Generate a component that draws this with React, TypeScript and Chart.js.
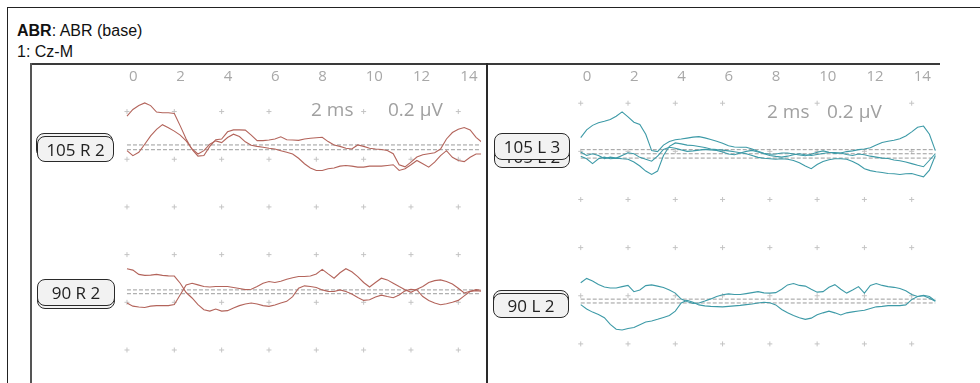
import React, { useEffect, useRef } from "react";
import { Chart, registerables } from "chart.js";

Chart.register(...registerables);

// ---------- data ----------
const TIMES_MS = [0, 0.25, 0.5, 0.75, 1, 1.25, 1.5, 1.75, 2, 2.25, 2.5, 2.75, 3, 3.25, 3.5, 3.75, 4, 4.25, 4.5, 4.75, 5, 5.25, 5.5, 5.75, 6, 6.25, 6.5, 6.75, 7, 7.25, 7.5, 7.75, 8, 8.25, 8.5, 8.75, 9, 9.25, 9.5, 9.75, 10, 10.25, 10.5, 10.75, 11, 11.25, 11.5, 11.75, 12, 12.25, 12.5, 12.75, 13, 13.25, 13.5, 13.75, 14, 14.25, 14.5, 14.75, 15];
const X_TICKS_MS = [0, 2, 4, 6, 8, 10, 12, 14];
const GRID_ROWS_UV = [0, -0.2, -0.4, -0.6, -0.8, -1.0];

// amplitudes in µV relative to each trace's own baseline
const R105_T1 = [0.121, 0.149, 0.165, 0.176, 0.165, 0.138, 0.135, 0.135, 0.132, 0.080, 0.025, -0.019, -0.047, -0.044, -0.006, 0.022, 0.025, 0.055, 0.063, 0.063, 0.062, 0.041, 0.018, 0.018, 0.021, 0.025, 0.034, 0.022, 0.021, 0.019, 0.025, 0.028, 0.030, 0.032, 0.014, 0.000, -0.006, -0.014, -0.017, 0.000, -0.006, -0.014, -0.017, -0.019, -0.023, -0.037, -0.083, -0.092, -0.072, -0.051, -0.041, -0.037, -0.033, -0.017, 0.025, 0.052, 0.066, 0.073, 0.063, 0.032, 0.011];
const R105_T2 = [-0.004, -0.025, -0.011, 0.023, 0.058, 0.085, 0.105, 0.092, 0.078, 0.061, 0.037, 0.003, -0.018, -0.004, 0.023, 0.037, 0.030, 0.051, 0.065, 0.055, 0.033, 0.019, 0.014, 0.010, 0.006, 0.003, -0.004, -0.011, -0.018, -0.036, -0.059, -0.077, -0.087, -0.087, -0.080, -0.077, -0.069, -0.066, -0.069, -0.073, -0.073, -0.069, -0.069, -0.069, -0.066, -0.063, -0.087, -0.080, -0.063, -0.045, -0.059, -0.073, -0.052, -0.025, -0.004, -0.032, -0.045, -0.050, -0.032, -0.018, -0.018];
const R90_T1 = [0.089, 0.083, 0.065, 0.061, 0.062, 0.065, 0.061, 0.059, 0.058, 0.028, -0.011, -0.034, -0.062, -0.083, -0.089, -0.080, -0.089, -0.087, -0.076, -0.066, -0.059, -0.055, -0.059, -0.066, -0.069, -0.063, -0.055, -0.048, -0.028, 0.007, 0.017, 0.014, 0.010, 0.000, -0.006, -0.007, 0.000, -0.007, -0.017, -0.032, -0.044, -0.041, -0.030, -0.022, -0.028, -0.033, -0.021, -0.004, 0.003, 0.000, -0.028, -0.044, -0.055, -0.062, -0.058, -0.052, -0.044, -0.025, -0.007, -0.003, -0.006];
const R90_T2 = [-0.039, -0.052, -0.056, -0.058, -0.052, -0.050, -0.050, -0.050, -0.045, -0.004, 0.037, 0.044, 0.037, 0.030, 0.028, 0.030, 0.030, 0.030, 0.026, 0.022, 0.017, 0.019, 0.030, 0.044, 0.051, 0.047, 0.052, 0.061, 0.067, 0.072, 0.072, 0.074, 0.083, 0.102, 0.083, 0.065, 0.088, 0.105, 0.092, 0.072, 0.047, 0.028, 0.047, 0.065, 0.058, 0.044, 0.030, 0.017, 0.006, 0.019, 0.030, 0.047, 0.055, 0.058, 0.051, 0.041, 0.023, 0.003, 0.010, 0.017, 0.014];
const L105_T1 = [0.050, 0.082, 0.101, 0.112, 0.118, 0.125, 0.139, 0.157, 0.136, 0.114, 0.105, 0.064, -0.004, -0.008, 0.019, 0.034, 0.041, 0.044, 0.048, 0.052, 0.054, 0.049, 0.042, 0.035, 0.027, 0.016, 0.011, 0.010, 0.010, 0.003, -0.007, -0.015, -0.019, -0.018, -0.014, -0.014, -0.018, -0.022, -0.025, -0.019, -0.011, -0.005, -0.011, -0.016, -0.014, -0.008, -0.005, 0.000, 0.003, 0.008, 0.019, 0.030, 0.035, 0.039, 0.045, 0.057, 0.074, 0.093, 0.098, 0.064, -0.004];
const L105_T2 = [0.007, -0.007, 0.000, -0.007, -0.020, -0.014, -0.018, -0.007, 0.004, 0.000, -0.015, -0.023, -0.031, -0.010, 0.018, 0.027, 0.023, 0.016, 0.010, 0.012, 0.015, 0.018, 0.016, 0.014, 0.007, -0.001, -0.004, 0.003, 0.010, 0.014, 0.007, 0.000, -0.007, -0.011, -0.014, -0.010, -0.004, 0.000, -0.004, -0.007, -0.003, 0.001, 0.005, 0.005, 0.003, -0.003, -0.007, -0.001, -0.004, -0.010, -0.014, -0.018, -0.020, -0.026, -0.029, -0.034, -0.041, -0.048, -0.054, -0.027, 0.000];
const L105_T3 = [0.008, -0.003, -0.023, -0.003, 0.004, -0.003, 0.000, -0.003, -0.005, -0.016, -0.033, -0.054, -0.068, -0.054, 0.011, 0.049, 0.063, 0.059, 0.054, 0.052, 0.048, 0.044, 0.038, 0.035, 0.033, 0.030, 0.026, 0.022, 0.018, 0.011, 0.003, -0.001, -0.003, -0.005, -0.003, -0.005, -0.010, -0.019, -0.033, -0.044, -0.027, -0.014, -0.007, -0.003, -0.003, -0.005, -0.014, -0.027, -0.044, -0.052, -0.057, -0.060, -0.064, -0.065, -0.068, -0.065, -0.064, -0.071, -0.078, -0.050, 0.011];
const L90_T1 = [0.068, 0.086, 0.075, 0.061, 0.050, 0.046, 0.046, 0.052, 0.057, 0.031, 0.038, 0.056, 0.059, 0.054, 0.048, 0.038, 0.025, 0.000, -0.010, -0.018, -0.016, -0.008, 0.001, 0.011, 0.018, 0.022, 0.019, 0.019, 0.023, 0.027, 0.031, 0.026, 0.025, 0.027, 0.041, 0.059, 0.065, 0.057, 0.054, 0.041, 0.029, 0.031, 0.049, 0.060, 0.041, 0.025, 0.038, 0.052, 0.025, 0.057, 0.065, 0.057, 0.052, 0.049, 0.044, 0.035, 0.019, 0.011, 0.016, 0.011, -0.008];
const L90_T2 = [-0.007, -0.025, -0.038, -0.048, -0.061, -0.089, -0.109, -0.112, -0.106, -0.102, -0.090, -0.079, -0.075, -0.068, -0.060, -0.052, -0.034, 0.000, 0.011, 0.003, -0.008, -0.012, -0.014, -0.015, -0.016, -0.014, -0.012, -0.010, -0.007, -0.004, 0.000, 0.003, 0.001, -0.008, -0.027, -0.041, -0.052, -0.061, -0.068, -0.063, -0.049, -0.041, -0.034, -0.041, -0.050, -0.041, -0.037, -0.033, -0.030, -0.023, -0.016, -0.014, -0.011, -0.011, -0.011, -0.008, 0.014, 0.027, 0.030, 0.020, 0.007];

// ---------- layout (positions / styles) ----------
type Trace = { amp: number[]; base: number };
type PanelCfg = {
  left: number; width: number; xMin: number; xMax: number; yMin: number; yMax: number;
  color: string; traces: Trace[];
};

const CANVAS_TOP = 65;
const CANVAS_H = 318;
const AXIS_H = 21;

const PANELS: PanelCfg[] = [
  {
    left: 32, width: 454, xMin: -3.802, xMax: 14.959, yMin: -1.1175, yMax: 0.1072,
    color: "#b3645b",
    traces: [
      { amp: R105_T1, base: -0.140 },
      { amp: R105_T2, base: -0.160 },
      { amp: R90_T1, base: -0.748 },
      { amp: R90_T2, base: -0.764 },
    ],
  },
  {
    left: 488, width: 457, xMin: -3.711, xMax: 15.197, yMin: -1.1417, yMax: 0.0715,
    color: "#3d9aa7",
    traces: [
      { amp: L105_T1, base: -0.193 },
      { amp: L105_T2, base: -0.210 },
      { amp: L105_T3, base: -0.228 },
      { amp: L90_T1, base: -0.814 },
      { amp: L90_T2, base: -0.830 },
    ],
  },
];

function Panel({ cfg }: { cfg: PanelCfg }) {
  const ref = useRef<HTMLCanvasElement | null>(null);
  useEffect(() => {
    if (!ref.current) return;
    const datasets: any[] = [];
    cfg.traces.forEach((tr) => {
      datasets.push({
        type: "scatter",
        data: tr.amp.map((a, i) => ({ x: TIMES_MS[i], y: tr.base + a })),
        showLine: true,
        borderColor: cfg.color,
        borderWidth: 1.1,
        pointRadius: 0,
        tension: 0,
        order: 1,
      });
    });
    cfg.traces.forEach((tr) => {
      datasets.push({
        type: "scatter",
        data: [
          { x: TIMES_MS[0], y: tr.base },
          { x: TIMES_MS[TIMES_MS.length - 1], y: tr.base },
        ],
        showLine: true,
        borderColor: "#9c9c9c",
        borderWidth: 1,
        borderDash: [4, 2],
        pointRadius: 0,
        order: 2,
      });
    });
    const dots: { x: number; y: number }[] = [];
    GRID_ROWS_UV.forEach((r) => X_TICKS_MS.forEach((t) => dots.push({ x: t, y: r })));
    datasets.push({
      type: "scatter",
      data: dots,
      pointStyle: "cross",
      pointRadius: 2.5,
      borderColor: "#c4c4c4",
      borderWidth: 1,
      backgroundColor: "#c4c4c4",
      order: 3,
    });

    const chart = new Chart(ref.current, {
      type: "scatter",
      data: { datasets },
      options: {
        responsive: false,
        animation: false,
        events: [],
        layout: { padding: 0 },
        plugins: { legend: { display: false }, tooltip: { enabled: false }, title: { display: false } },
        scales: {
          x: {
            type: "linear",
            position: "top",
            min: cfg.xMin,
            max: cfg.xMax,
            grid: { display: false, drawTicks: false },
            border: { display: false },
            ticks: {
              color: "#a8a8a8",
              font: { family: "'Open Sans'", size: 15 },
              padding: 0,
              align: "start",
              labelOffset: 2,
              maxRotation: 0,
              autoSkip: false,
            },
            afterBuildTicks: (s: any) => {
              s.ticks = X_TICKS_MS.map((v) => ({ value: v }));
            },
            afterFit: (s: any) => {
              s.height = AXIS_H;
              s.paddingLeft = 0;
              s.paddingRight = 0;
            },
          },
          y: {
            type: "linear",
            display: false,
            min: cfg.yMin,
            max: cfg.yMax,
          },
        },
      } as any,
    });
    return () => chart.destroy();
  }, [cfg]);
  return (
    <canvas
      ref={ref}
      width={cfg.width}
      height={CANVAS_H}
      style={{ position: "absolute", left: cfg.left, top: CANVAS_TOP, width: cfg.width, height: CANVAS_H }}
    />
  );
}

const boxStyle = (left: number, top: number, w: number, h: number): React.CSSProperties => ({
  position: "absolute",
  left,
  top,
  width: w,
  height: h,
  boxSizing: "border-box",
  border: "1.5px solid #2a2a2a",
  borderRadius: 8,
  background: "#f2f2f2",
  display: "flex",
  alignItems: "center",
  justifyContent: "center",
  fontFamily: "'Open Sans', sans-serif",
  fontSize: 17,
  color: "#222",
  whiteSpace: "nowrap",
});

const scaleText = (left: number, top: number): React.CSSProperties => ({
  position: "absolute",
  left,
  top,
  fontFamily: "'Open Sans', sans-serif",
  fontSize: 19,
  lineHeight: "22px",
  color: "#a0a0a0",
  background: "#fff",
  whiteSpace: "nowrap",
});

export default function App() {
  useEffect(() => {
    document.body.style.margin = "0";
  }, []);
  return (
    <div style={{ position: "fixed", left: 0, top: 0, width: 980, height: 383, background: "#fff", overflow: "hidden" }}>
      {/* outer frame */}
      <div style={{ position: "absolute", left: 7, top: 7, width: 973, height: 1, background: "#222" }} />
      <div style={{ position: "absolute", left: 7, top: 7, width: 1, height: 376, background: "#222" }} />
      {/* header */}
      <div style={{ position: "absolute", left: 17, top: 23, fontFamily: "'Liberation Sans', Arial, sans-serif", fontSize: 16, lineHeight: "16px", color: "#111", whiteSpace: "nowrap" }}>
        <b>ABR</b>: ABR (base)
      </div>
      <div style={{ position: "absolute", left: 17, top: 44, fontFamily: "'Liberation Sans', Arial, sans-serif", fontSize: 16, lineHeight: "16px", color: "#111", whiteSpace: "nowrap" }}>
        1: Cz-M
      </div>

      {PANELS.map((p, i) => (
        <Panel key={i} cfg={p} />
      ))}

      {/* panel frames */}
      <div style={{ position: "absolute", left: 30, top: 63, width: 910, height: 2, background: "#3a3a3a" }} />
      <div style={{ position: "absolute", left: 30, top: 63, width: 2, height: 320, background: "#555" }} />
      <div style={{ position: "absolute", left: 486, top: 63, width: 2, height: 320, background: "#2a2a2a" }} />

      {/* scale annotations */}
      <div style={scaleText(311, 98)}>2 ms</div>
      <div style={scaleText(388, 98)}>0.2 µV</div>
      <div style={scaleText(767, 100)}>2 ms</div>
      <div style={scaleText(827, 100)}>0.2 µV</div>

      {/* trace labels */}
      <div style={boxStyle(36, 133, 77, 25)} />
      <div style={boxStyle(37, 136, 77, 26)}>105 R 2</div>

      <div style={boxStyle(37, 282, 78, 27)} />
      <div style={boxStyle(37, 279, 78, 27)}>90 R 2</div>

      <div style={boxStyle(494, 144, 76, 24)}>105 L 2</div>
      <div style={boxStyle(494, 133, 76, 27)}>105 L 3</div>

      <div style={boxStyle(493, 290, 76, 25)} />
      <div style={boxStyle(493, 293, 76, 25)}>90 L 2</div>
    </div>
  );
}
